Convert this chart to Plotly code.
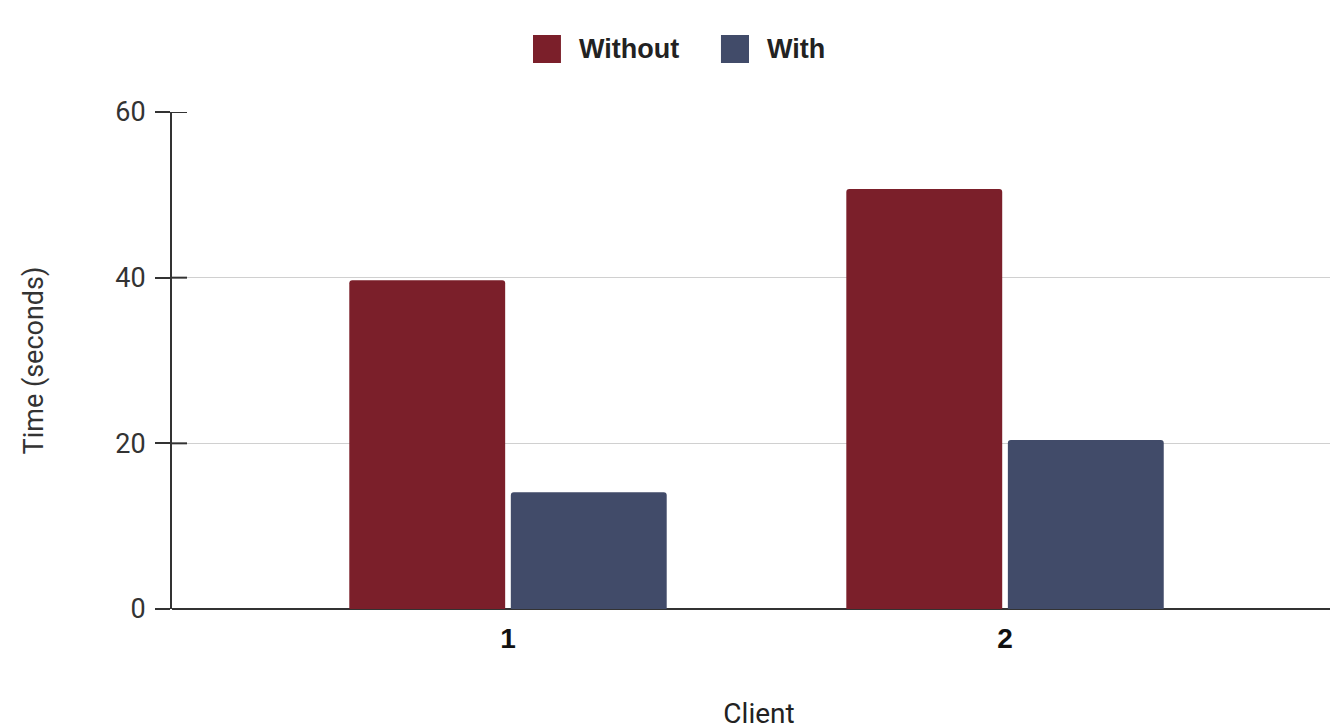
import plotly.graph_objects as go

clients = [1, 2]
without_vals = [39.7, 50.7]
with_vals = [14.1, 20.4]
series_names = ["Without", "With"]
series_colors = ["#7B1F2A", "#414B69"]
y_ticks = [0, 20, 40, 60]

fig = go.Figure()
fig.add_trace(go.Bar(x=clients, y=without_vals, name=series_names[0],
                     marker=dict(color=series_colors[0], line=dict(width=0))))
fig.add_trace(go.Bar(x=clients, y=with_vals, name=series_names[1],
                     marker=dict(color=series_colors[1], line=dict(width=0))))

# manual legend (large square swatches)
sq_x = [(0.3075, 0.3313), (0.4676, 0.4915)]
txt_x = [0.3450, 0.5051]
for (x0, x1), tx, name, col in zip(sq_x, txt_x, series_names, series_colors):
    fig.add_shape(type="rect", xref="paper", yref="paper", x0=x0, x1=x1, y0=1.0986, y1=1.1549,
                  fillcolor=col, line=dict(width=0))
    fig.add_annotation(xref="paper", yref="paper", x=tx, y=1.1268, xanchor="left", yanchor="middle",
                       text=name, showarrow=False,
                       font=dict(family="Liberation Sans", size=27, color="#222222", weight="bold"))

# inner half of the y tick marks (ticks cross the axis line)
for v in y_ticks[1:]:
    fig.add_shape(type="line", xref="paper", xsizemode="pixel", xanchor=0, x0=0, x1=15,
                  yref="y", y0=v, y1=v, line=dict(color="#333333", width=2), layer="above")

fig.update_layout(
    width=1338, height=728,
    margin=dict(l=164, r=0, t=104, b=127),
    paper_bgcolor="white", plot_bgcolor="white",
    barmode="group", bargap=0.35, bargroupgap=0.035,
    barcornerradius=3,
    showlegend=False,
    xaxis=dict(range=[0.324, 2.686], tickvals=clients, ticktext=[str(c) for c in clients],
               showgrid=False, zeroline=False, showline=False, ticks="",
               ticklabelstandoff=10,
               tickfont=dict(family="Liberation Sans", size=28, color="#111111", weight="bold"),
               title=dict(text="Client", font=dict(family="Roboto", size=28, color="#222222"), standoff=50)),
    yaxis=dict(range=[0, 60], tickvals=y_ticks, showgrid=True, gridcolor="#D0D0D0", gridwidth=1,
               zeroline=True, zerolinecolor="#333333", zerolinewidth=2,
               showline=True, linecolor="#333333", linewidth=2,
               ticks="outside", ticklen=15, tickwidth=2, tickcolor="#333333",
               ticklabelstandoff=4,
               tickfont=dict(family="Roboto", size=27, color="#333333"),
               title=dict(text="Time (seconds)", font=dict(family="Roboto", size=27, color="#333333"), standoff=64)),
)

fig.write_html("out.html")
